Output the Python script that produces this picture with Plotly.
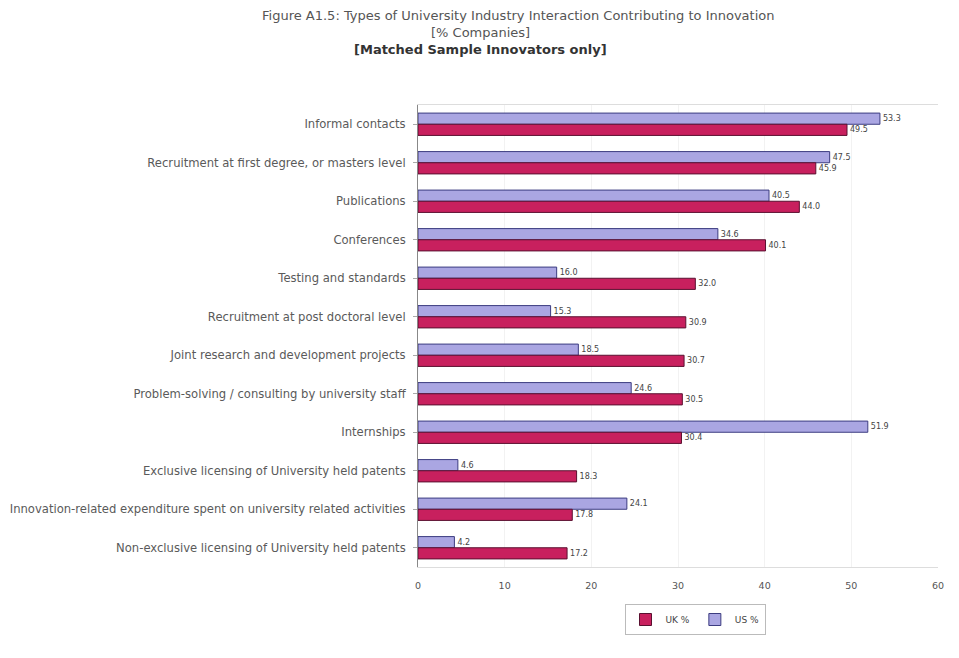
import plotly.graph_objects as go

# Interaction types, top to bottom
categories = [
    "Informal contacts",
    "Recruitment at first degree, or masters level",
    "Publications",
    "Conferences",
    "Testing and standards",
    "Recruitment at post doctoral level",
    "Joint research and development projects",
    "Problem-solving / consulting by university staff",
    "Internships",
    "Exclusive licensing of University held patents",
    "Innovation-related expenditure spent on university related activities",
    "Non-exclusive licensing of University held patents",
]

uk_pct = [49.5, 45.9, 44.0, 40.1, 32.0, 30.9, 30.7, 30.5, 30.4, 18.3, 17.8, 17.2]
us_pct = [53.3, 47.5, 40.5, 34.6, 16.0, 15.3, 18.5, 24.6, 51.9, 4.6, 24.1, 4.2]

x_ticks = [0, 10, 20, 30, 40, 50, 60]

font_family = "DejaVu Sans, Liberation Sans, Arial, sans-serif"

W, H = 959, 658
ML, MR, MT, MB = 418, 21, 105, 91
PW, PH = W - ML - MR, H - MT - MB


def px_x(x):
    return (x - ML) / PW


def px_y(y):
    return 1 + (MT - y) / PH


fig = go.Figure()

# US first so it sits above UK within each group on the reversed axis
fig.add_trace(go.Bar(
    name="US %",
    y=categories,
    x=us_pct,
    orientation="h",
    marker=dict(color="#AAA6E2", line=dict(color="#3C3C80", width=1)),
    text=[f"{v:.1f}" for v in us_pct],
    textposition="outside",
    textfont=dict(size=8, color="#444444"),
    cliponaxis=False,
    legendrank=2,
))

fig.add_trace(go.Bar(
    name="UK %",
    y=categories,
    x=uk_pct,
    orientation="h",
    marker=dict(color="#C8205E", line=dict(color="#5A1030", width=1)),
    text=[f"{v:.1f}" for v in uk_pct],
    textposition="outside",
    textfont=dict(size=8, color="#444444"),
    cliponaxis=False,
    legendrank=1,
))

fig.update_layout(
    width=W,
    height=H,
    barmode="group",
    bargap=0.42,
    bargroupgap=0.0,
    paper_bgcolor="white",
    plot_bgcolor="white",
    font=dict(family=font_family, color="#555555"),
    margin=dict(l=ML, r=MR, t=MT, b=MB, autoexpand=False),
    showlegend=True,
    legend=dict(
        orientation="h",
        x=px_x(695), xanchor="center",
        y=px_y(604), yanchor="top",
        font=dict(size=9, color="#444444"),
        bordercolor="#BBBBBB",
        borderwidth=1,
        itemwidth=30,
        tracegroupgap=0,
    ),
    uniformtext=dict(minsize=7, mode="show"),
    annotations=[
        dict(text="Figure A1.5: Types of University Industry Interaction Contributing to Innovation",
             xref="paper", yref="paper", x=px_x(518), y=px_y(16),
             xanchor="center", yanchor="middle", showarrow=False,
             font=dict(size=13, color="#555555")),
        dict(text="[% Companies]",
             xref="paper", yref="paper", x=px_x(480), y=px_y(33),
             xanchor="center", yanchor="middle", showarrow=False,
             font=dict(size=13, color="#555555")),
        dict(text="<b>[Matched Sample Innovators only]</b>",
             xref="paper", yref="paper", x=px_x(480), y=px_y(50),
             xanchor="center", yanchor="middle", showarrow=False,
             font=dict(size=13, color="#333333")),
    ],
)

fig.update_xaxes(
    range=[0, 60],
    tickvals=x_ticks,
    ticktext=[str(t) for t in x_ticks],
    tickfont=dict(size=9.5, color="#555555"),
    showgrid=True,
    gridcolor="#F2F2F2",
    zeroline=False,
    showline=True,
    linecolor="#DDDDDD",
    mirror=True,
    ticks="",
    ticklabelstandoff=10,
    automargin=False,
)

fig.update_yaxes(
    autorange="reversed",
    tickfont=dict(size=11.6, color="#5A5A5A"),
    showline=True,
    linecolor="#888888",
    ticks="outside",
    ticklen=4,
    tickcolor="#AAAAAA",
    ticklabelstandoff=5,
    automargin=False,
)

fig.write_html("out.html")
